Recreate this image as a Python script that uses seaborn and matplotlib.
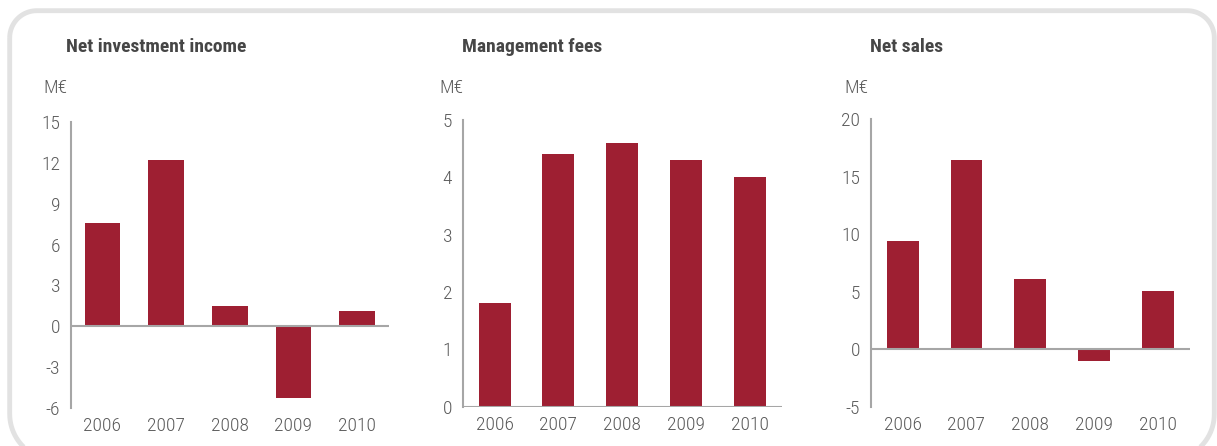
import matplotlib
matplotlib.use("Agg")
import numpy as np
import matplotlib.pyplot as plt
from matplotlib.path import Path
from matplotlib.patches import PathPatch
import seaborn as sns

years = ["2006", "2007", "2008", "2009", "2010"]
net_investment_income = [7.6, 12.2, 1.5, -5.3, 1.1]
management_fees = [1.8, 4.4, 4.6, 4.3, 4.0]
net_sales = [9.4, 16.5, 6.1, -1.0, 5.1]

titles = ["Net investment income", "Management fees", "Net sales"]
unit_label = "M€"
y_ticks = [[-6, -3, 0, 3, 6, 9, 12, 15], [0, 1, 2, 3, 4, 5], [-5, 0, 5, 10, 15, 20]]

sns.set_theme(style="white")
plt.rcParams["font.family"] = ["Roboto Condensed", "DejaVu Sans"]

BAR = "#9e1f32"
AXIS = "#a6a6a6"
TICK = "#5a5a5a"
TITLE = "#464646"

W, H = 1217, 446
fig = plt.figure(figsize=(W / 100, H / 100), dpi=100)
fig.patch.set_facecolor("white")

# rounded frame around the three panels (in pixel units, y pointing down)
bg = fig.add_axes([0, 0, 1, 1], zorder=-5)
bg.set_xlim(0, W)
bg.set_ylim(H, 0)
bg.axis("off")


def rounded_frame(x0, y0, x1, y1, r_top, r_bot, n=24):
    pts = []
    def arc(cx, cy, r, a0, a1):
        for a in np.linspace(a0, a1, n):
            pts.append((cx + r * np.cos(a), cy + r * np.sin(a)))
    arc(x0 + r_top, y0 + r_top, r_top, np.pi, 1.5 * np.pi)
    arc(x1 - r_top, y0 + r_top, r_top, 1.5 * np.pi, 2 * np.pi)
    arc(x1 - r_bot, y1 - r_bot, r_bot, 0, 0.5 * np.pi)
    arc(x0 + r_bot, y1 - r_bot, r_bot, 0.5 * np.pi, np.pi)
    pts.append(pts[0])
    return Path(pts)


bg.add_patch(PathPatch(rounded_frame(9.7, 10.7, 1214.3, 460, 27, 46),
                       fill=False, edgecolor="#e2e2e2", linewidth=3.5))


def px_box(left, right, top, bottom):
    return [left / W, 1 - bottom / H, (right - left) / W, (bottom - top) / H]


panels = [
    dict(values=net_investment_income, box=px_box(70.5, 389, 122, 408), width=0.56,
         title_x=66, unit_x=43),
    dict(values=management_fees, box=px_box(462.7, 781.7, 120, 406.7), width=0.5,
         title_x=461.7, unit_x=439),
    dict(values=net_sales, box=px_box(870.7, 1190, 119.3, 406.7), width=0.5,
         title_x=870, unit_x=844),
]

for p, title, ticks in zip(panels, titles, y_ticks):
    ax = fig.add_axes(p["box"])
    sns.barplot(x=years, y=p["values"], color=BAR, saturation=1, width=p["width"],
                linewidth=0, ax=ax, zorder=2)
    ax.set_xlim(-0.5, len(years) - 0.5)
    ax.set_ylim(ticks[0], ticks[-1])
    ax.set_yticks(ticks)
    ax.set_yticklabels([str(t) for t in ticks])
    ax.axhline(0, color=AXIS, linewidth=1.5, zorder=3)
    for side in ["top", "right", "bottom"]:
        ax.spines[side].set_visible(False)
    ax.spines["left"].set_color(AXIS)
    ax.spines["left"].set_linewidth(1.5)
    ax.tick_params(axis="both", length=0, labelsize=14, labelcolor=TICK)
    for lab in ax.get_xticklabels() + ax.get_yticklabels():
        lab.set_fontweight(300)
    ax.tick_params(axis="y", pad=7.5)
    ax.tick_params(axis="x", pad=6.5)
    ax.set_xlabel("")
    ax.set_ylabel("")
    ax.set_facecolor("none")
    fig.text(p["title_x"] / W, 1 - 47.5 / H, title, fontsize=14, fontweight="bold",
             color=TITLE, ha="left", va="center")
    fig.text(p["unit_x"] / W, 1 - 88 / H, unit_label, fontsize=14, fontweight=300,
             color=TICK, ha="left", va="center")

fig.savefig("out.png", dpi=100)
